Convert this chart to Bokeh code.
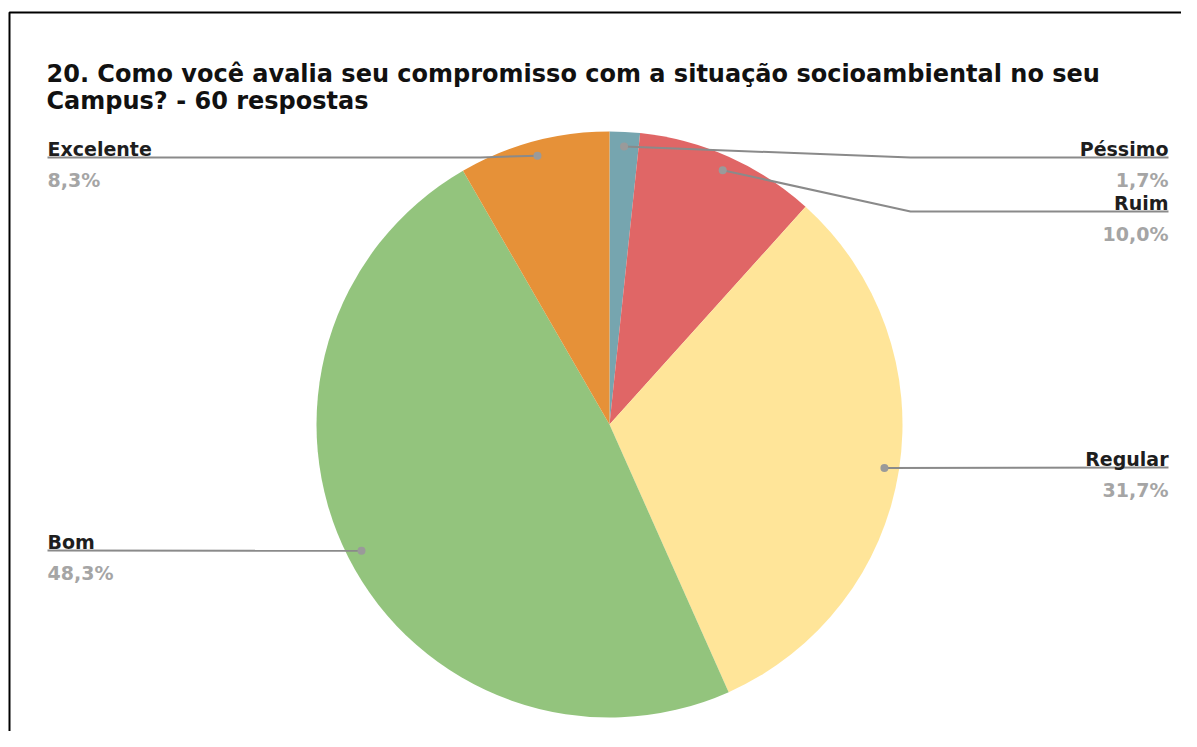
import math
from bokeh.plotting import figure
from bokeh.models import Range1d, ColumnDataSource
from bokeh.core.properties import value
from bokeh.embed import file_html
from bokeh.resources import INLINE

# ---- data ----
categories = ["Péssimo", "Ruim", "Regular", "Bom", "Excelente"]
counts = [1, 6, 19, 29, 5]
pct_labels = ["1,7%", "10,0%", "31,7%", "48,3%", "8,3%"]
colors = ["#76a5af", "#e06666", "#ffe599", "#93c47d", "#e69138"]
title_lines = ["20. Como você avalia seu compromisso com a  situação socioambiental no seu",
               "Campus? - 60 respostas"]

# ---- layout (image pixel coords; data y = -image y) ----
W, H = 1181, 731
CX, CY, R = 609, 424, 293
label_side = ["right", "right", "right", "left", "left"]
label_line_y = [157, 211, 467, 550, 157]
elbow_x = [910, 910, None, None, 480]
LEFT_X, RIGHT_X = 47, 1168
FONT = "DejaVu Sans"

p = figure(width=W, height=H, output_backend="svg", toolbar_location=None,
           x_range=Range1d(0, W), y_range=Range1d(-H, 0),
           min_border=0)
p.axis.visible = False
p.grid.visible = False
p.outline_line_color = None
p.background_fill_color = "white"
p.border_fill_color = "white"

# frame border
p.line(x=[9, 9, 1300], y=[-900, -12, -12], line_color="black", line_width=2)

# title
p.text(x=[46, 46], y=[-73, -100], text=title_lines, text_font=value(FONT),
       text_font_size="24px", text_font_style="bold", text_color="#111111",
       text_baseline="alphabetic", text_align="left")

# pie
total = sum(counts)
starts, ends, mids = [], [], []
cum = 0
for c in counts:
    a0 = math.pi / 2 - 2 * math.pi * cum / total
    cum += c
    a1 = math.pi / 2 - 2 * math.pi * cum / total
    starts.append(a0)
    ends.append(a1)
    mids.append((a0 + a1) / 2)

src = ColumnDataSource(dict(start=starts, end=ends, color=colors))
p.wedge(x=CX, y=-CY, radius=R, start_angle="start", end_angle="end",
        direction="clock", fill_color="color", line_color=None, source=src)

# leader lines, dots, labels
RD = 0.95 * R
for i, cat in enumerate(categories):
    dx = CX + RD * math.cos(mids[i])
    dy = CY - RD * math.sin(mids[i])
    ly = label_line_y[i]
    end_x = RIGHT_X if label_side[i] == "right" else LEFT_X
    xs, ys = [end_x], [ly]
    if elbow_x[i] is not None:
        xs.append(elbow_x[i]); ys.append(ly)
    xs.append(dx); ys.append(dy)
    p.line(x=xs, y=[-v for v in ys], line_color="#8a8a8a", line_width=2)
    p.scatter(x=[dx], y=[-dy], size=8, fill_color="#9a9a9a", line_color=None)
    align = "right" if label_side[i] == "right" else "left"
    p.text(x=[end_x], y=[-(ly - 9)], text=[cat], text_font=value(FONT),
           text_font_size="19px", text_font_style="bold", text_color="#1e1e1e",
           text_baseline="alphabetic", text_align=align)
    p.text(x=[end_x], y=[-(ly + 22)], text=[pct_labels[i]], text_font=value(FONT),
           text_font_size="19px", text_font_style="bold", text_color="#a5a5a5",
           text_baseline="alphabetic", text_align=align)

open("out.html", "w").write(file_html(p, INLINE))
